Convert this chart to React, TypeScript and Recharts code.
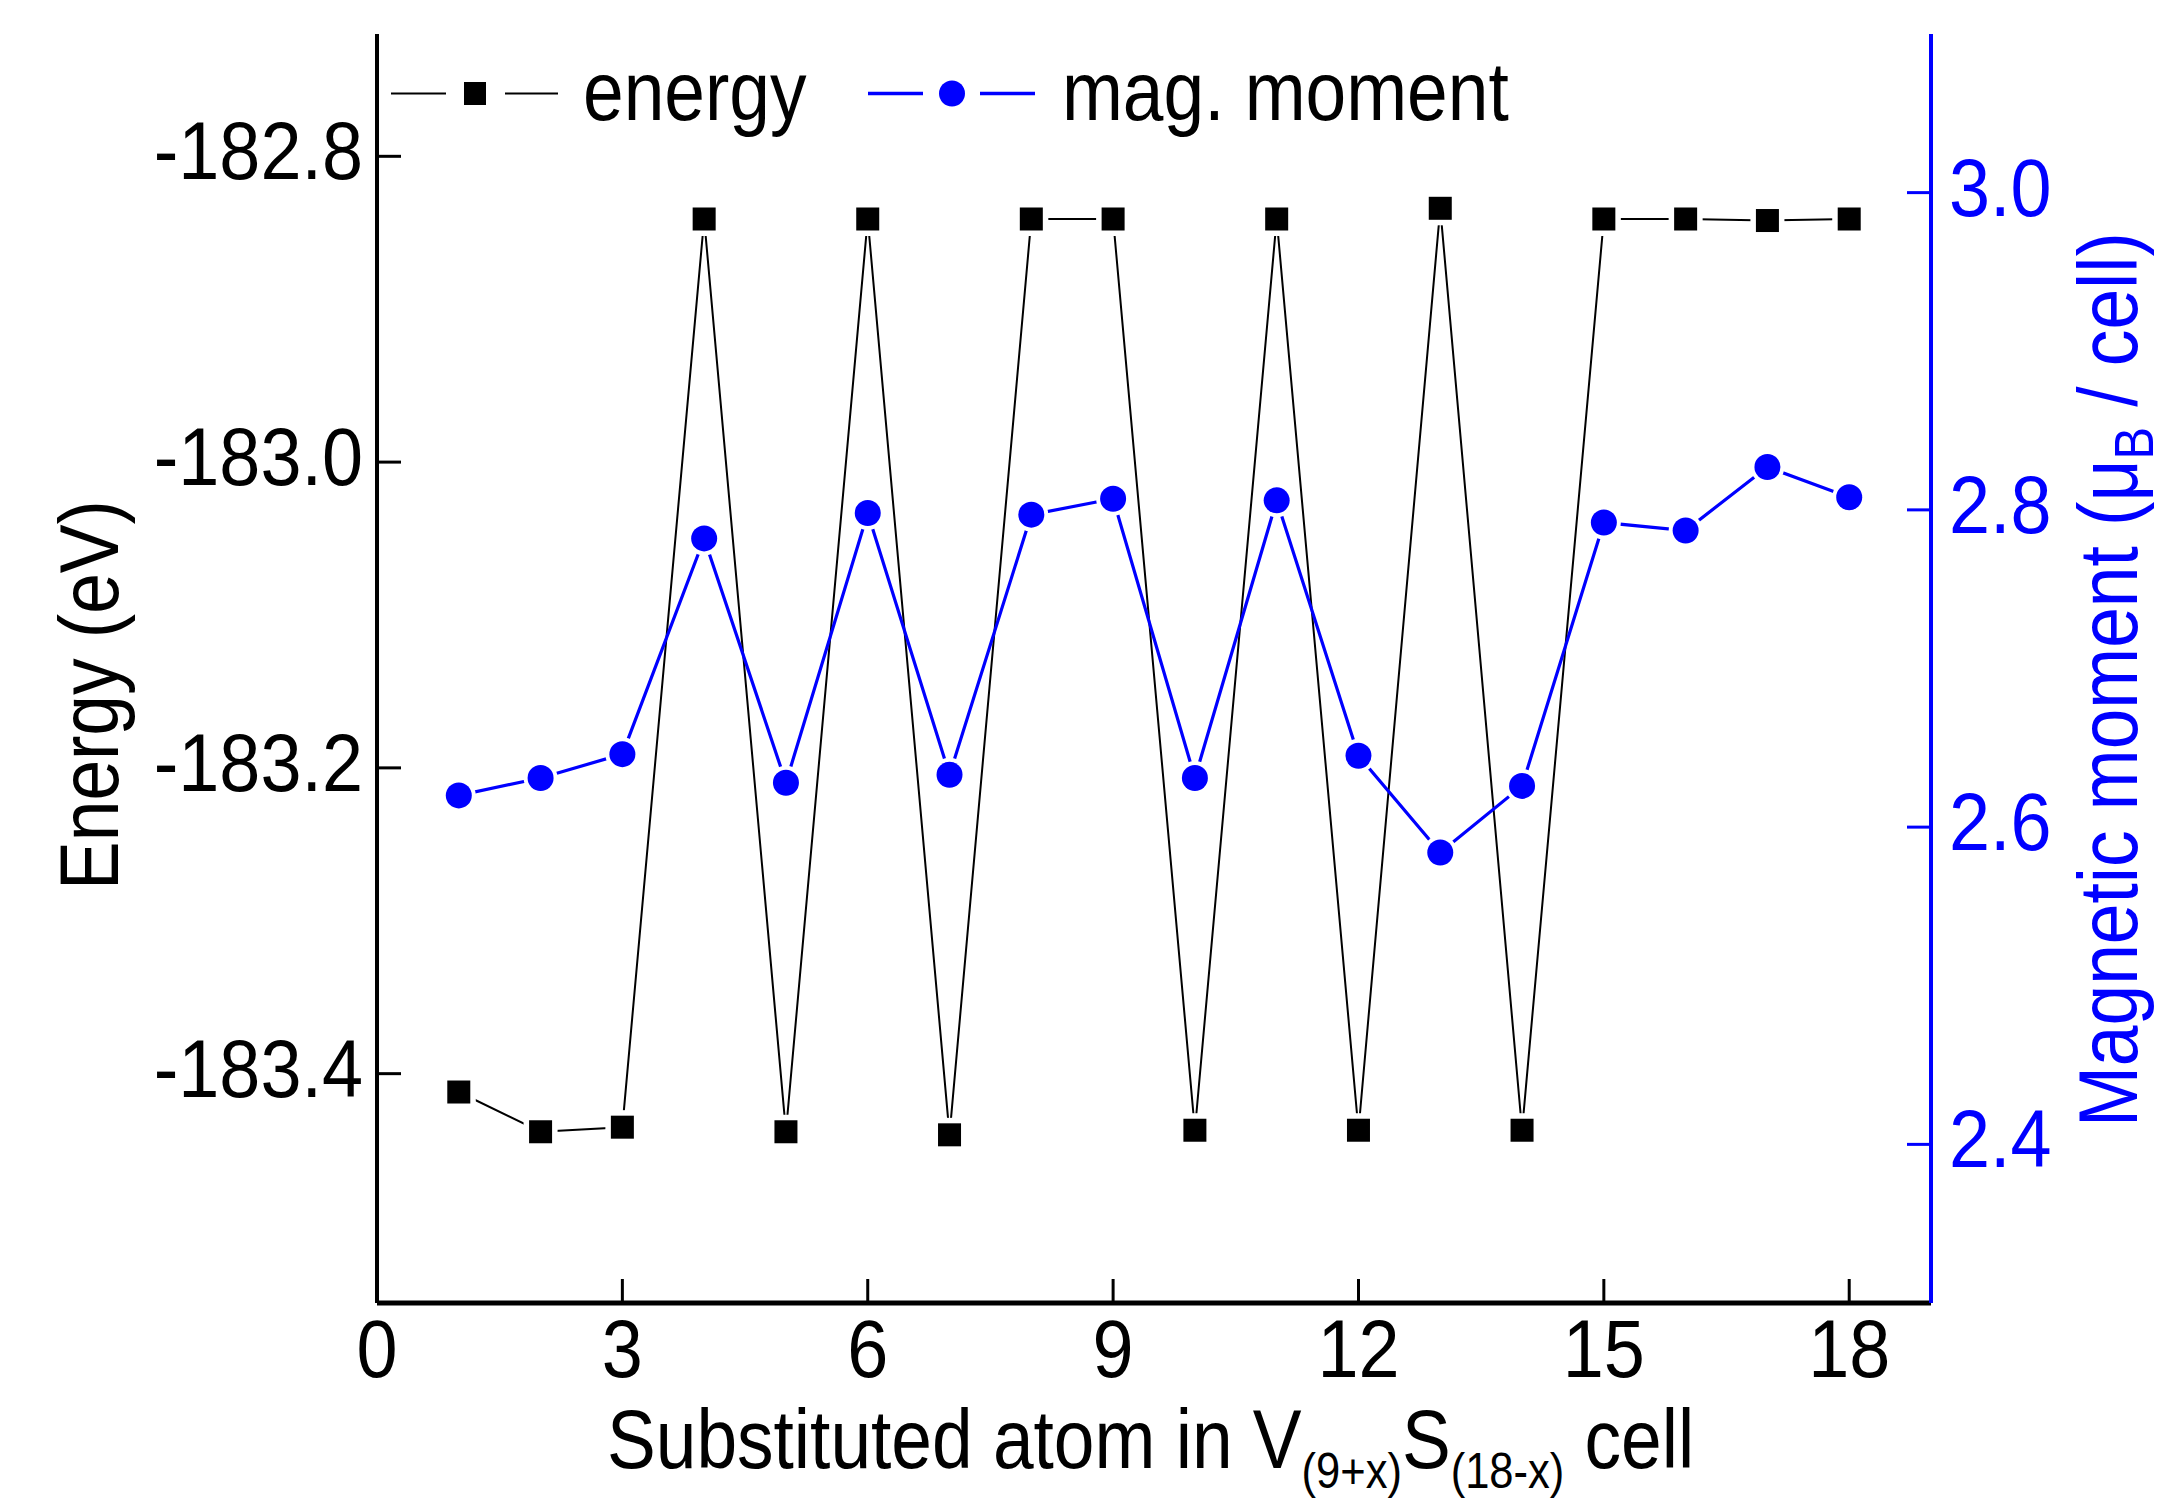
import React from "react"
import { ComposedChart, Line, XAxis, YAxis } from "recharts"

// substituted atom index x in V(9+x)S(18-x)
const positions = [1, 2, 3, 4, 5, 6, 7, 8, 9, 10, 11, 12, 13, 14, 15, 16, 17, 18]
// total energy (eV)
const energy = [
  -183.412, -183.438, -183.435, -182.841, -183.438, -182.841, -183.44, -182.841, -182.841,
  -183.437, -182.841, -183.437, -182.834, -183.437, -182.841, -182.841, -182.842, -182.841,
]
// magnetic moment (muB / cell)
const magMoment = [
  2.62, 2.631, 2.646, 2.782, 2.628, 2.798, 2.633, 2.797, 2.807,
  2.631, 2.806, 2.645, 2.584, 2.626, 2.792, 2.787, 2.827, 2.808,
]
const xTicks = [0, 3, 6, 9, 12, 15, 18]
const energyTicks = [-183.4, -183.2, -183.0, -182.8]
const momentTicks = [2.4, 2.6, 2.8, 3.0]

const data = positions.map((x, i) => ({ x, energy: energy[i], moment: magMoment[i] }))

const BLUE = "#0000ff"
const FONT = "'Liberation Sans', Arial, Helvetica, sans-serif"

const SquareDot = (props: any) => {
  const { cx, cy, index } = props
  if (cx == null || cy == null) return <g key={`sq-${index}`} />
  return (
    <g key={`sq-${index}`}>
      <rect x={cx - 17} y={cy - 17} width={34} height={34} fill="#fff" />
      <rect x={cx - 11.5} y={cy - 11.5} width={23} height={23} fill="#000" />
    </g>
  )
}

const CircleDot = (props: any) => {
  const { cx, cy, index } = props
  if (cx == null || cy == null) return <g key={`ci-${index}`} />
  return (
    <g key={`ci-${index}`}>
      <circle cx={cx} cy={cy} r={17} fill="#fff" />
      <circle cx={cx} cy={cy} r={13} fill={BLUE} />
    </g>
  )
}

// top axis carries tick marks only
const EmptyTick = () => <g />

const BottomTick = ({ x, y, payload }: any) => (
  <g transform={`translate(${x},${y}) scale(0.9,1)`}>
    <text textAnchor="middle" fontSize={82} fontFamily={FONT} fill="#000">
      {payload.value}
    </text>
  </g>
)

const LeftTick = ({ x, y, payload }: any) => (
  <g transform={`translate(${x},${y}) scale(0.9,1)`}>
    <text textAnchor="end" dy={23} fontSize={82} fontFamily={FONT} fill="#000">
      {Number(payload.value).toFixed(1)}
    </text>
  </g>
)

const RightTick = ({ x, y, payload }: any) => (
  <g transform={`translate(${x},${y}) scale(0.9,1)`}>
    <text textAnchor="start" dy={23} fontSize={82} fontFamily={FONT} fill={BLUE}>
      {Number(payload.value).toFixed(1)}
    </text>
  </g>
)

const energyTitle = (props: any) => {
  const { x, y } = props.viewBox
  return (
    <g transform={`translate(${x + 118},${y + 856}) rotate(-90) scale(0.87,1)`}>
      <text textAnchor="start" fontSize={84} fontFamily={FONT} fill="#000">
        Energy (eV)
      </text>
    </g>
  )
}

const momentTitle = (props: any) => {
  const { x, y } = props.viewBox
  return (
    <g transform={`translate(${x + 206},${y + 1093}) rotate(-90) scale(0.87,1)`}>
      <text textAnchor="start" fontSize={84} fontFamily={FONT} fill={BLUE}>
        Magnetic moment (μ
        <tspan fontSize={56} dy={16}>B</tspan>
        <tspan dy={-16}> / cell)</tspan>
      </text>
    </g>
  )
}

const xTitle = (props: any) => {
  const { y } = props.viewBox
  return (
    <g transform={`translate(607,${y + 165}) scale(0.87,1)`}>
      <text textAnchor="start" fontSize={84} fontFamily={FONT} fill="#000">
        Substituted atom in V
        <tspan fontSize={50} dy={20}>(9+x)</tspan>
        <tspan dy={-20}>S</tspan>
        <tspan fontSize={50} dy={20}>(18-x)</tspan>
        <tspan dy={-20}> cell</tspan>
      </text>
    </g>
  )
}

export default function App() {
  return (
    <div
      style={{
        position: "absolute",
        left: 0,
        top: 0,
        width: 2177,
        height: 1501,
        background: "#fff",
        fontFamily: FONT,
      }}
    >
      <ComposedChart
        width={2177}
        height={1501}
        data={data}
        margin={{ top: 34, right: 0, bottom: 0, left: 0 }}
      >
        <XAxis
          xAxisId="t"
          orientation="top"
          dataKey="x"
          type="number"
          domain={[0, 19]}
          ticks={xTicks}
          interval={0}
          height={0}
          tick={<EmptyTick />}
          tickSize={-28}
          axisLine={{ stroke: "#000", strokeWidth: 3.5 }}
          tickLine={{ stroke: "#000", strokeWidth: 3 }}
        />
        <XAxis
          xAxisId="b"
          dataKey="x"
          type="number"
          domain={[0, 19]}
          ticks={xTicks}
          interval={0}
          height={198}
          tickSize={-24}
          tickMargin={98}
          tick={<BottomTick />}
          axisLine={{ stroke: "#000", strokeWidth: 5 }}
          tickLine={{ stroke: "#000", strokeWidth: 3 }}
          label={xTitle}
        />
        <YAxis
          yAxisId="e"
          domain={[-183.55, -182.72]}
          allowDataOverflow
          ticks={energyTicks}
          interval={0}
          width={377}
          tickSize={-24}
          tickMargin={38}
          tick={<LeftTick />}
          axisLine={{ stroke: "#000", strokeWidth: 4 }}
          tickLine={{ stroke: "#000", strokeWidth: 3 }}
          label={energyTitle}
        />
        <YAxis
          yAxisId="m"
          orientation="right"
          domain={[2.3, 3.1]}
          allowDataOverflow
          ticks={momentTicks}
          interval={0}
          width={246}
          tickSize={-24}
          tickMargin={42}
          tick={<RightTick />}
          axisLine={{ stroke: BLUE, strokeWidth: 4 }}
          tickLine={{ stroke: BLUE, strokeWidth: 3 }}
          label={momentTitle}
        />
        <Line
          xAxisId="b"
          yAxisId="e"
          type="linear"
          dataKey="energy"
          stroke="#000"
          strokeWidth={2}
          dot={SquareDot}
          activeDot={false}
          isAnimationActive={false}
        />
        <Line
          xAxisId="b"
          yAxisId="m"
          type="linear"
          dataKey="moment"
          stroke={BLUE}
          strokeWidth={3.2}
          dot={CircleDot}
          activeDot={false}
          isAnimationActive={false}
        />
      </ComposedChart>

      {/* legend */}
      <svg
        width={2177}
        height={200}
        style={{ position: "absolute", left: 0, top: 0, pointerEvents: "none" }}
      >
        <line x1={391} x2={446} y1={93.5} y2={93.5} stroke="#000" strokeWidth={2} />
        <rect x={464} y={82} width={22} height={23} fill="#000" />
        <line x1={505} x2={558} y1={93.5} y2={93.5} stroke="#000" strokeWidth={2} />
        <g transform="translate(583,120) scale(0.87,1)">
          <text fontSize={84} fontFamily={FONT} fill="#000">energy</text>
        </g>
        <line x1={868} x2={923} y1={93.5} y2={93.5} stroke={BLUE} strokeWidth={3.3} />
        <circle cx={952} cy={93.5} r={13} fill={BLUE} />
        <line x1={980} x2={1035} y1={93.5} y2={93.5} stroke={BLUE} strokeWidth={3.3} />
        <g transform="translate(1062,120) scale(0.87,1)">
          <text fontSize={84} fontFamily={FONT} fill="#000">mag. moment</text>
        </g>
      </svg>
    </div>
  )
}
